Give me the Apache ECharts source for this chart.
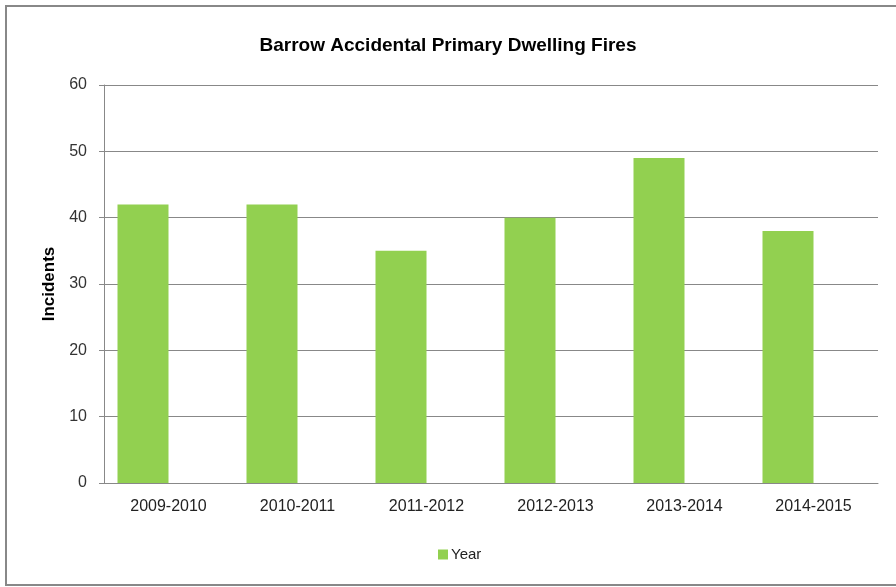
<!DOCTYPE html>
<html>
<head>
<meta charset="utf-8">
<script src="https://cdn.jsdelivr.net/npm/echarts@6/dist/echarts.min.js"></script>
<style>
  html, body { margin: 0; padding: 0; background: #fff; }
  #main { width: 896px; height: 587px; }
</style>
</head>
<body>
<div id="main"></div>
<script>
// 数据
var years = ['2009-2010', '2010-2011', '2011-2012', '2012-2013', '2013-2014', '2014-2015'];
var incidents = [42, 42, 35, 40, 49, 38];
var yTicks = [0, 10, 20, 30, 40, 50, 60];

var chart = echarts.init(document.getElementById('main'));
var font = "'Liberation Sans', Arial, sans-serif";

var option = {
  backgroundColor: '#fff',
  animation: false,
  // 外边框
  graphic: [{
    type: 'rect',
    shape: { x: 6, y: 6, width: 900, height: 579 },
    style: { fill: 'none', stroke: '#888', lineWidth: 2 },
    silent: true
  }],
  title: {
    text: 'Barrow Accidental Primary Dwelling Fires',
    left: 'center',
    top: 31,
    textStyle: { fontFamily: font, fontSize: 19, fontWeight: 'bold', color: '#000' }
  },
  legend: {
    data: ['Year'],
    left: 433,
    top: 542,
    itemWidth: 10,
    itemHeight: 10,
    icon: 'rect',
    itemGap: 4,
    textStyle: { fontFamily: font, fontSize: 15, color: '#222', padding: [0, 0, 0, -2] }
  },
  grid: { left: 104, right: 18, top: 85, bottom: 104, containLabel: false },
  xAxis: {
    type: 'category',
    data: years,
    axisLine: { lineStyle: { color: '#888', width: 1 } },
    axisTick: { show: false },
    axisLabel: { fontFamily: font, fontSize: 16, color: '#222', margin: 16 }
  },
  yAxis: {
    type: 'value',
    min: yTicks[0],
    max: yTicks[yTicks.length - 1],
    interval: 10,
    name: 'Incidents',
    nameLocation: 'middle',
    nameGap: 46,
    nameTextStyle: { fontFamily: font, fontSize: 17, fontWeight: 'bold', color: '#000' },
    axisLine: { show: true, lineStyle: { color: '#888' } },
    axisTick: { show: true, length: 5, lineStyle: { color: '#888' } },
    axisLabel: { fontFamily: font, fontSize: 16, color: '#333', margin: 17 },
    splitLine: { lineStyle: { color: '#888', width: 1 } }
  },
  series: [{
    name: 'Year',
    type: 'bar',
    data: incidents,
    barWidth: 51,
    barGap: '0%',
    itemStyle: { color: '#92D050' }
  }, {
    // 空系列, 让柱子偏左
    name: 'blank',
    type: 'bar',
    data: incidents.map(function () { return null; }),
    barWidth: 51,
    barGap: '0%'
  }]
};

chart.setOption(option);
</script>
</body>
</html>
